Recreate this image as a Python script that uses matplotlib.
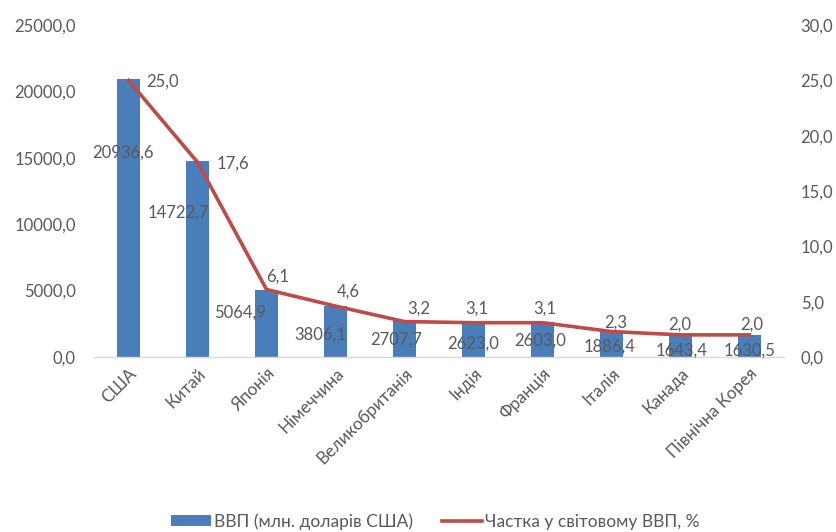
import matplotlib
matplotlib.use("Agg")
import matplotlib.pyplot as plt
from matplotlib.ticker import FuncFormatter

countries = ["США", "Китай", "Японія", "Німеччина", "Великобританія", "Індія",
             "Франція", "Італія", "Канада", "Північна Корея"]
gdp = [20936.6, 14722.7, 5064.9, 3806.1, 2707.7, 2623.0, 2603.0, 1886.4, 1643.4, 1630.5]
share = [25.0, 17.6, 6.1, 4.6, 3.2, 3.1, 3.1, 2.3, 2.0, 2.0]

# label offsets in pixels (dx, dy) relative to data points
bar_lab_off = [(-6, -74), (-19, -51), (-26, -23), (-15, -28), (-8, -19),
               (0, -21), (-2, -18), (-2, -15), (1, -15), (0, -15)]
line_lab_off = [(34, -1), (35, -1), (11, 13), (13, 14), (14, 13),
                (3, 14), (2, 14), (4, 9), (-1, 10), (2, 10)]

plt.rcParams['font.family'] = ['Lato', 'DejaVu Sans']
TXT = '#595959'
BLUE = '#4A7EBB'
RED = '#BE4B48'

fig = plt.figure(figsize=(8.37, 5.32), dpi=100)
ax = fig.add_axes([94/837, 1-357/532, 690/837, 332/532])
ax2 = ax.twinx()

x = list(range(len(countries)))
bars = ax.bar(x, gdp, width=0.32, color=BLUE, zorder=2, label='ВВП (млн. доларів США)')
line, = ax2.plot(x, share, color=RED, lw=2.6, zorder=3, label='Частка у світовому ВВП, %')

ax.set_xlim(-0.5, len(countries) - 0.5)
ax.set_ylim(0, 25000)
ax2.set_ylim(0, 30)
ax.set_yticks(range(0, 25001, 5000))
ax2.set_yticks(range(0, 31, 5))
fmt = FuncFormatter(lambda v, p: f"{v:.1f}".replace('.', ','))
ax.yaxis.set_major_formatter(fmt)
ax2.yaxis.set_major_formatter(fmt)

for a in (ax, ax2):
    for s in a.spines.values():
        s.set_visible(False)
ax.spines['bottom'].set_visible(True)
ax.spines['bottom'].set_color('#D9D9D9')
ax.spines['bottom'].set_linewidth(1.0)

ax.tick_params(axis='y', length=0, pad=13, labelsize=12, labelcolor=TXT)
ax2.tick_params(axis='y', length=0, pad=12, labelsize=12, labelcolor=TXT)
ax.tick_params(axis='x', length=0, pad=6, labelsize=12.3, labelcolor=TXT)
ax.set_xticks(x)
ax.set_xticklabels(countries, rotation=45, ha='right', rotation_mode='anchor')

ax2.set_zorder(ax.get_zorder() + 1)
ax2.patch.set_visible(False)

for i, v in enumerate(gdp):
    dx, dy = bar_lab_off[i]
    ax2.annotate(f"{v:.1f}".replace('.', ','), xy=(i, v * 30 / 25000), xytext=(dx, dy),
                 textcoords='offset pixels', ha='center', va='center',
                 fontsize=12, color=TXT, zorder=5)
for i, v in enumerate(share):
    dx, dy = line_lab_off[i]
    ax2.annotate(f"{v:.1f}".replace('.', ','), xy=(i, v), xytext=(dx, dy),
                 textcoords='offset pixels', ha='center', va='center',
                 fontsize=12, color=TXT, zorder=5)

fig.legend(handles=[bars, line], loc='center', bbox_to_anchor=(0.52, 0.02),
           ncol=2, frameon=False, fontsize=12.5, labelcolor=TXT,
           handlelength=2.3, handleheight=0.55, columnspacing=1.7, handletextpad=0.15)

fig.savefig('out.png', dpi=100)
